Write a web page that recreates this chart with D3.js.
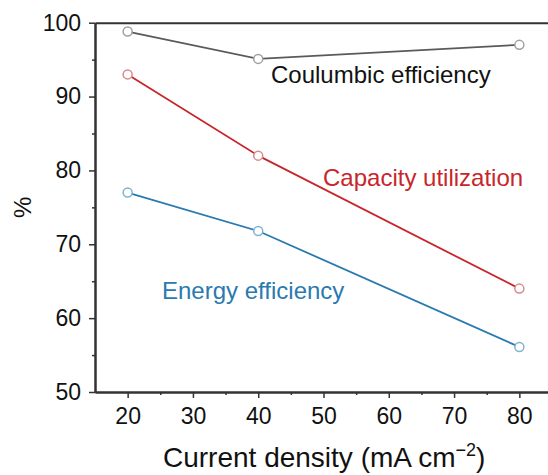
<!DOCTYPE html>
<html><head><meta charset="utf-8">
<script src="https://cdn.jsdelivr.net/npm/d3@7"></script>
<style>body{margin:0;background:#fff}svg{font-family:"Liberation Sans",Arial,sans-serif}</style>
</head><body><svg id="c" width="548" height="475"></svg>
<script>
const currentDensity = [20, 40, 80];
const coulombic = [98.8, 95.1, 97.0];
const capacity = [93.0, 82.0, 64.0];
const energy = [77.0, 71.8, 56.1];
const xTicks = [20, 30, 40, 50, 60, 70, 80];
const yTicks = [50, 60, 70, 80, 90, 100];

const svg = d3.select("#c");
const x = d3.scaleLinear().domain([15, 85]).range([95, 552]);
const y = d3.scaleLinear().domain([50, 100]).range([392, 22.7]);

const series = [
  {vals: coulombic, line: "#5a5a5a", mark: "#a0a0a0", label: "Coulumbic efficiency", lx: 271, ly: 83, tc: "#111"},
  {vals: capacity, line: "#c8262b", mark: "#d98a8d", label: "Capacity utilization", lx: 323, ly: 186, tc: "#c8262b"},
  {vals: energy, line: "#2a7ab0", mark: "#7fb3d3", label: "Energy efficiency", lx: 162, ly: 299, tc: "#2a7ab0"}
];

const axisColor = "#333";
const gx = svg.append("g").attr("transform", `translate(0,${y(50)})`)
  .call(d3.axisBottom(x).tickValues(xTicks).tickSize(6).tickPadding(10).tickSizeOuter(0));
const gxm = svg.append("g").attr("transform", `translate(0,${y(50)})`)
  .call(d3.axisBottom(x).tickValues([25,35,45,55,65,75,85]).tickSize(3).tickFormat("").tickSizeOuter(0));
const gy = svg.append("g").attr("transform", `translate(${x(15)},0)`)
  .call(d3.axisLeft(y).tickValues(yTicks).tickSize(6).tickPadding(8).tickSizeOuter(0));
const gym = svg.append("g").attr("transform", `translate(${x(15)},0)`)
  .call(d3.axisLeft(y).tickValues([55,65,75,85,95]).tickSize(3).tickFormat("").tickSizeOuter(0));
const gt = svg.append("g").attr("transform", `translate(0,${y(100)})`)
  .call(d3.axisTop(x).tickValues([]).tickSizeOuter(0));
[gx,gxm,gy,gym,gt].forEach(g=>{
  g.selectAll("path").attr("stroke", axisColor).attr("stroke-width", 2);
  g.selectAll("line").attr("stroke", axisColor).attr("stroke-width", 1.5);
  g.selectAll("text").attr("fill", "#111").style("font-size", "23px").style("font-family", '"Liberation Sans",Arial,sans-serif');
});

const line = d3.line().x((d,i)=>x(currentDensity[i])).y(d=>y(d));
series.forEach(s=>{
  svg.append("path").datum(s.vals).attr("d", line).attr("fill","none").attr("stroke", s.line).attr("stroke-width", 1.8);
  svg.selectAll(null).data(s.vals).enter().append("circle")
    .attr("cx",(d,i)=>x(currentDensity[i])).attr("cy",d=>y(d)).attr("r",4.5)
    .attr("fill","#fff").attr("stroke", s.mark).attr("stroke-width",1.5);
  svg.append("text").attr("x", s.lx).attr("y", s.ly).attr("fill", s.tc).style("font-size","24px").text(s.label);
});

svg.append("text").attr("transform", `translate(31,${(y(50)+y(100))/2}) rotate(-90)`)
  .attr("text-anchor","middle").attr("fill","#111").style("font-size","24px").text("%");
const xl = svg.append("text").attr("x", 163).attr("y", 467).attr("fill","#111").style("font-size","28px");
xl.append("tspan").text("Current density (mA cm");
xl.append("tspan").attr("dy",-11).style("font-size","18px").text("\u22122");
xl.append("tspan").attr("dy",11).text(")");
</script></body></html>
